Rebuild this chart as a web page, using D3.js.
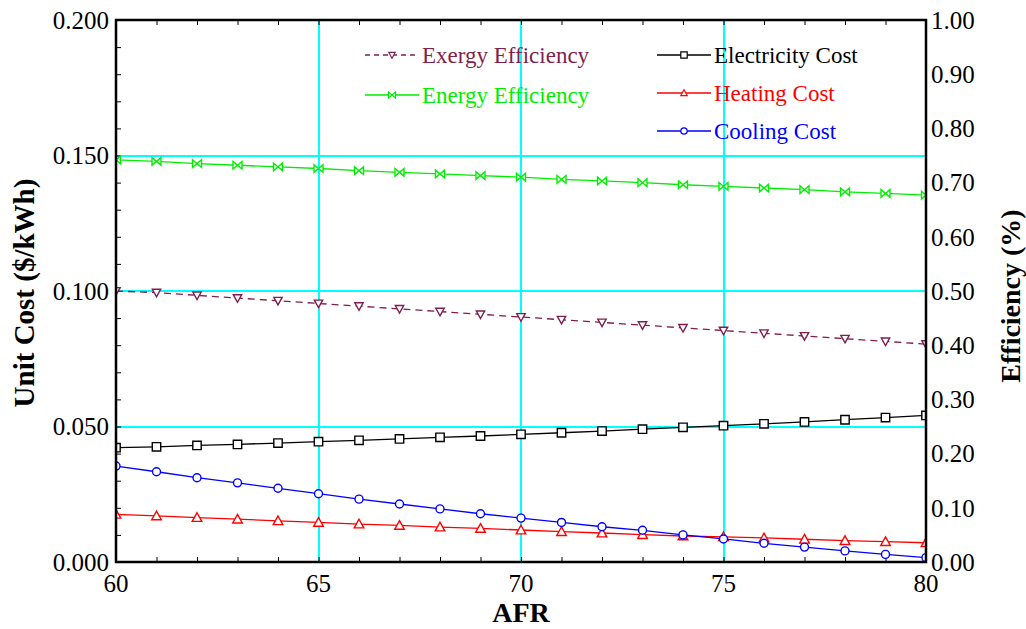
<!DOCTYPE html>
<html><head><meta charset="utf-8">
<script src="https://cdn.jsdelivr.net/npm/d3@7"></script>
<style>
html,body{margin:0;padding:0;background:#fff;}
svg text{font-family:"Liberation Serif","Times New Roman",serif;}
</style></head>
<body><svg id="c" width="1026" height="629"></svg>
<script>
const afr = d3.range(60, 81);
const exergyEff = [0.500,0.497,0.492,0.487,0.482,0.477,0.472,0.467,0.462,0.457,0.452,0.447,0.442,0.437,0.432,0.427,0.422,0.417,0.412,0.407,0.402];
const energyEff = [0.742,0.739,0.735,0.732,0.729,0.726,0.722,0.719,0.716,0.713,0.710,0.706,0.703,0.700,0.696,0.693,0.690,0.687,0.683,0.680,0.677];
const electricityCost = [0.0422,0.0425,0.0430,0.0434,0.0439,0.0444,0.0449,0.0454,0.0460,0.0465,0.0471,0.0477,0.0483,0.0490,0.0497,0.0503,0.0510,0.0517,0.0525,0.0533,0.0541];
const heatingCost = [0.0176,0.0170,0.0164,0.0158,0.0152,0.0146,0.0140,0.0135,0.0129,0.0124,0.0118,0.0112,0.0107,0.0101,0.0096,0.0093,0.0089,0.0084,0.0079,0.0075,0.0071];
const coolingCost = [0.0354,0.0333,0.0311,0.0292,0.0272,0.0252,0.0232,0.0214,0.0196,0.0178,0.0162,0.0146,0.0130,0.0117,0.0100,0.0085,0.0069,0.0055,0.0041,0.0028,0.0016];
const xTicks = [60,65,70,75,80];
const yLeftTicks = [0,0.05,0.1,0.15,0.2];
const yRightTicks = d3.range(0, 11).map(i => i/10);

const L=116, R=926, T=20, B=562;
const svg = d3.select("#c");
const x = d3.scaleLinear().domain([60,80]).range([L,R]);
const yL = d3.scaleLinear().domain([0,0.2]).range([B,T]);
const yR = d3.scaleLinear().domain([0,1]).range([B,T]);

svg.append("defs").append("clipPath").attr("id","clip")
  .append("rect").attr("x",L).attr("y",T).attr("width",R-L).attr("height",B-T);

// grid
const grid = svg.append("g").attr("stroke","#00ffff").attr("stroke-width",1.3).attr("shape-rendering","crispEdges");
[65,70,75].forEach(v=>grid.append("line").attr("x1",Math.round(x(v))).attr("x2",Math.round(x(v))).attr("y1",T).attr("y2",B));
[0.05,0.1,0.15].forEach(v=>grid.append("line").attr("y1",Math.round(yL(v))).attr("y2",Math.round(yL(v))).attr("x1",L).attr("x2",R));

// axes
const tickFont = "25px";
const gB = svg.append("g").attr("transform",`translate(0,${B})`)
  .call(d3.axisTop(x).ticks(20).tickSize(5).tickFormat(""));
const gT = svg.append("g").attr("transform",`translate(0,${T})`)
  .call(d3.axisBottom(x).ticks(20).tickSize(5).tickFormat(""));
const gL = svg.append("g").attr("transform",`translate(${L},0)`)
  .call(d3.axisRight(yL).ticks(20).tickSize(5).tickFormat(""));
[gB,gT,gL].forEach(g=>{g.select(".domain").remove(); g.selectAll("line").attr("stroke","#000").attr("stroke-width",1);});

// tick labels
svg.append("g").selectAll("text").data(xTicks).join("text")
  .attr("x",d=>x(d)).attr("y",B+30).attr("text-anchor","middle")
  .style("font-size",tickFont).attr("fill","#000").text(d=>d);
svg.append("g").selectAll("text").data(yLeftTicks).join("text")
  .attr("x",L-7).attr("y",d=>yL(d)).attr("dy","0.35em").attr("text-anchor","end")
  .style("font-size",tickFont).attr("fill","#000").text(d=>d3.format(".3f")(d));
svg.append("g").selectAll("text").data(yRightTicks).join("text")
  .attr("x",R+5).attr("y",d=>yR(d)).attr("dy","0.35em").attr("text-anchor","start")
  .style("font-size",tickFont).attr("fill","#000").text(d=>d3.format(".2f")(d));

// titles
svg.append("text").attr("transform",`translate(34,${(T+B)/2+2}) rotate(-90)`).attr("text-anchor","middle")
  .style("font-size","29px").style("font-weight","bold").text("Unit Cost ($/kWh)");
svg.append("text").attr("transform",`translate(1020,${(T+B)/2+5}) rotate(-90)`).attr("text-anchor","middle")
  .style("font-size","28px").style("font-weight","bold").text("Efficiency (%)");
svg.append("text").attr("x",(L+R)/2).attr("y",622).attr("text-anchor","middle")
  .style("font-size","28px").style("font-weight","bold").text("AFR");

// markers
const sym = {
  square: s=>`M${-s},${-s}H${s}V${s}H${-s}Z`,
  triUp: s=>`M0,${-s}L${s},${s*0.8}L${-s},${s*0.8}Z`,
  triDown: s=>`M0,${s}L${s},${-s*0.8}L${-s},${-s*0.8}Z`,
  circle: s=>`M${s},0A${s},${s} 0 1,1 ${-s},0A${s},${s} 0 1,1 ${s},0Z`,
  bowtie: s=>`M${-s},${-s*0.85}L${s},${s*0.85}L${s},${-s*0.85}L${-s},${s*0.85}Z`
};

const series = [
  {name:"Exergy Efficiency", vals:exergyEff, y:yR, color:"#7f1f4f", dash:"7,5", marker:"triDown", ms:4.2},
  {name:"Energy Efficiency", vals:energyEff, y:yR, color:"#00ee00", dash:null, marker:"bowtie", ms:4.5},
  {name:"Electricity Cost", vals:electricityCost, y:yL, color:"#000000", dash:null, marker:"square", ms:4.2},
  {name:"Heating Cost", vals:heatingCost, y:yL, color:"#ff0000", dash:null, marker:"triUp", ms:4.8},
  {name:"Cooling Cost", vals:coolingCost, y:yL, color:"#0000ff", dash:null, marker:"circle", ms:4}
];

const plot = svg.append("g").attr("clip-path","url(#clip)");
series.forEach(s=>{
  const pts = afr.map((a,i)=>[a,s.vals[i]]);
  const line = d3.line().x(d=>x(d[0])).y(d=>s.y(d[1]));
  plot.append("path").datum(pts).attr("d",line).attr("fill","none")
    .attr("stroke",s.color).attr("stroke-width",1.3).attr("stroke-dasharray",s.dash);
  plot.append("g").selectAll("path").data(pts).join("path")
    .attr("transform",d=>`translate(${x(d[0])},${s.y(d[1])})`)
    .attr("d",sym[s.marker](s.ms)).attr("fill","#fff").attr("stroke",s.color).attr("stroke-width",1.4);
});

// frame
svg.append("rect").attr("x",L).attr("y",T).attr("width",R-L).attr("height",B-T)
  .attr("fill","none").attr("stroke","#000").attr("stroke-width",2.5);

// legend
const leg = [
  {s:series[0], x0:365, y:55},
  {s:series[1], x0:365, y:95},
  {s:series[2], x0:657, y:55},
  {s:series[3], x0:657, y:93},
  {s:series[4], x0:657, y:131}
];
leg.forEach(o=>{
  const g = svg.append("g");
  g.append("line").attr("x1",o.x0).attr("x2",o.x0+54).attr("y1",o.y).attr("y2",o.y)
    .attr("stroke",o.s.color).attr("stroke-width",1.3).attr("stroke-dasharray",o.s.dash ? "5,4" : null);
  g.append("path").attr("transform",`translate(${o.x0+27},${o.y})`).attr("d",sym[o.s.marker](o.s.marker==="bowtie"?3.5:3.2))
    .attr("fill","#fff").attr("stroke",o.s.color).attr("stroke-width",1.2);
  g.append("text").attr("x",o.x0+57).attr("y",o.y).attr("dy","0.35em")
    .style("font-size","23px").attr("fill",o.s.color).text(o.s.name);
});
</script></body></html>
